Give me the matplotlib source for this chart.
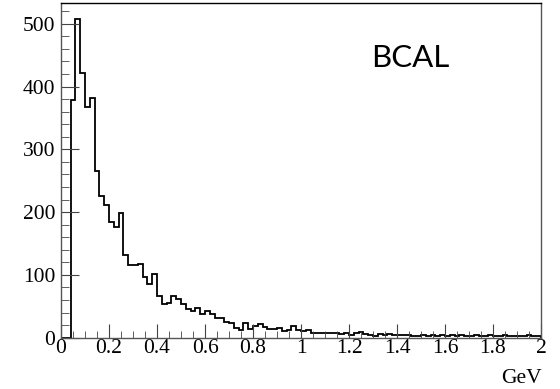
import numpy as np
import matplotlib
matplotlib.use("Agg")
import matplotlib.pyplot as plt
from matplotlib.ticker import MultipleLocator

# histogram: 100 bins of 0.02 GeV from 0 to 2
x_min, x_max, n_bins = 0.0, 2.0, 100
counts = [
    0, 0, 378, 507, 422, 368, 382, 266, 226, 211,
    185, 177, 198, 131, 115, 115, 117, 97, 85, 101,
    66, 53, 55, 66, 62, 54, 46, 43, 48, 38,
    42, 38, 31, 31, 25, 24, 15, 13, 23, 14,
    18, 22, 17, 14, 14, 15, 10, 12, 18, 13,
    10, 12, 8, 8, 8, 8, 8, 8, 6, 8,
    5, 7, 9, 6, 5, 3, 6, 5, 6, 4,
    5, 4, 4, 3, 2, 4, 3, 5, 2, 4,
    3, 5, 2, 4, 3, 3, 4, 2, 3, 5,
    2, 3, 4, 2, 3, 3, 2, 4, 2, 3,
]
y_max = 533
label_text = "BCAL"
x_unit = "GeV"

edges = np.linspace(x_min, x_max, n_bins + 1)

fig = plt.figure(figsize=(5.6, 3.89), dpi=100)
ax = fig.add_axes([61 / 560, 1 - 337.7 / 389, 480 / 560, 334.7 / 389])

ax.stairs(counts, edges, color="black", linewidth=1.3, baseline=0)

ax.set_xlim(x_min, x_max)
ax.set_ylim(0, y_max)

ax.xaxis.set_major_locator(MultipleLocator(0.2))
ax.xaxis.set_minor_locator(MultipleLocator(0.05))
ax.yaxis.set_major_locator(MultipleLocator(100))
ax.yaxis.set_minor_locator(MultipleLocator(20))
ax.xaxis.set_major_formatter(plt.FuncFormatter(lambda v, p: f"{v:g}"))

tick_font = {"family": "Liberation Serif", "size": 15.5}
for lab in ax.get_xticklabels() + ax.get_yticklabels():
    lab.set_fontfamily(tick_font["family"])
    lab.set_fontsize(tick_font["size"])

ax.tick_params(which="both", direction="in", colors="#444444", labelcolor="black",
               top=False, right=False)
ax.tick_params(axis="x", which="major", length=10, pad=1)
ax.tick_params(axis="x", which="minor", length=5)
ax.tick_params(axis="y", which="major", length=13, pad=4)
ax.tick_params(axis="y", which="minor", length=6)

for side in ["left", "bottom", "right"]:
    ax.spines[side].set_color("#555555")
    ax.spines[side].set_linewidth(1.0)
ax.spines["top"].set_color("black")
ax.spines["top"].set_linewidth(1.0)

fig.text(371 / 560, 1 - 66.7 / 389, label_text, family="Lato", fontsize=22.5,
         ha="left", va="baseline")
fig.text(542 / 560, 1 - 383 / 389, x_unit, family="Liberation Serif", fontsize=15.5,
         ha="right", va="baseline")

fig.savefig("out.png", dpi=100)
